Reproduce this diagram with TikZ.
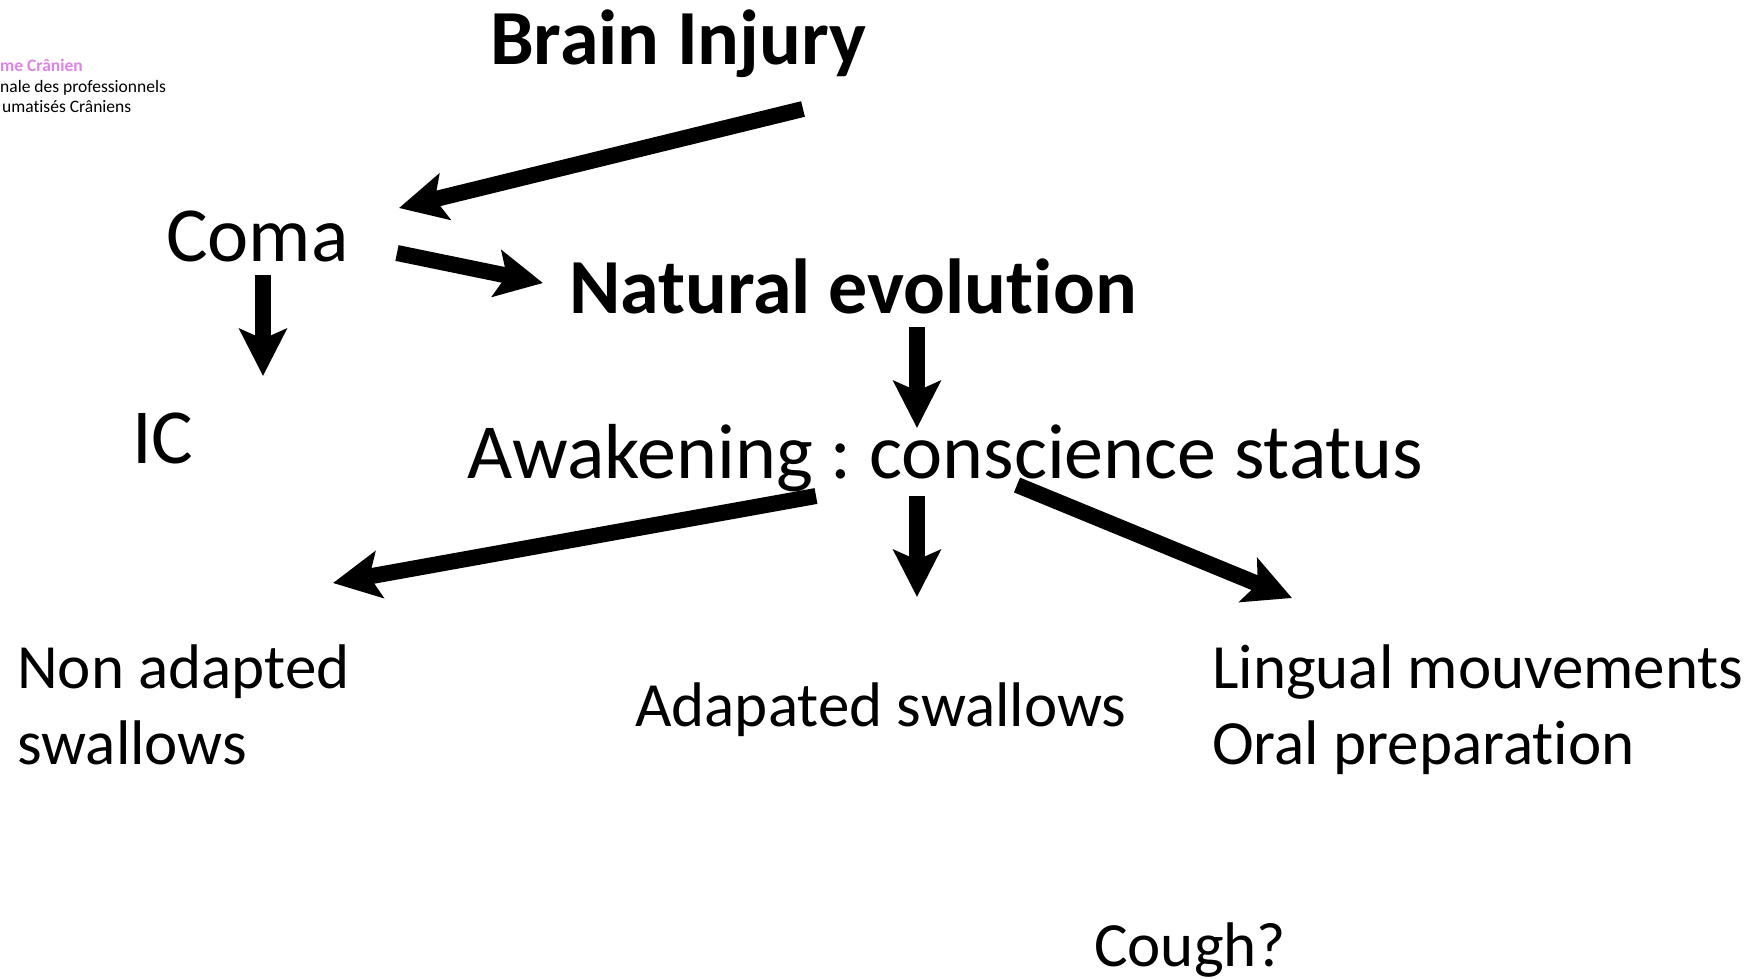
\documentclass[tikz,border=0pt]{standalone}
\usepackage{fontspec}
\setmainfont{Carlito}[Ligatures=CommonOff]
\usetikzlibrary{arrows.meta}
\frenchspacing
\definecolor{logopink}{RGB}{222,130,232}
\tikzset{
  big/.style={inner sep=0pt, anchor=base west, font=\fontsize{78}{94}\selectfont},
  bigbold/.style={big, font=\fontsize{78}{94}\selectfont\bfseries},
  mid/.style={inner sep=0pt, anchor=base west, font=\fontsize{63}{76}\selectfont},
  logo/.style={inner sep=0pt, anchor=base west, font=\fontsize{17.5}{21}\selectfont},
  flow/.style={line width=16pt, line cap=butt,
    -{Stealth[length=47pt, width=47pt, inset=10pt]}}
}
\begin{document}
\begin{tikzpicture}[x=1pt, y=-1pt]
\useasboundingbox (0,0) rectangle (1757,978);
\clip (0,0) rectangle (1757,978);

% logo caption, cut off at the left edge
\node[logo, text=logopink, font=\fontsize{17.5}{21}\selectfont\bfseries] (logoA) at (0,71) {me Crânien};
\node[logo] (logoB) at (0,92) {nale des professionnels};
\node[logo] (logoC) at (2,112) {umatisés Crâniens};

% titles and states
\node[bigbold] (injury) at (490,64) {Brain Injury};
\node[big] (coma) at (166,261) {Coma};
\node[big] (ic) at (132,463) {IC};
\node[bigbold] (natural) at (569,313) {Natural evolution};
\node[big] (awake) at (467,478) {Awakening : conscience status};

% outcomes
\node[mid] (nonad1) at (17,688) {Non adapted};
\node[mid] (nonad2) at (17,764) {swallows};
\node[mid] (adapt) at (635,726) {Adapated swallows};
\node[mid] (lingual) at (1212,688) {Lingual mouvements};
\node[mid] (oral) at (1212,764) {Oral preparation};
\node[mid] (cough) at (1094,966) {Cough?};

% arrow end points
\coordinate (injS) at (803,109);
\coordinate (injE) at (399,208);
\coordinate (comaR) at (397,253);
\coordinate (natW) at (543,283);
\coordinate (comaD) at (263,275);
\coordinate (icN) at (263,376);
\coordinate (natS) at (917,327);
\coordinate (awN) at (917,428);
\coordinate (awL) at (816,496);
\coordinate (nonN) at (333,583);
\coordinate (awM) at (917,496);
\coordinate (adN) at (917,597);
\coordinate (awR) at (1017,485);
\coordinate (linN) at (1292,598);

\draw[flow] (injS) -- (injE);
\draw[flow] (comaR) -- (natW);
\draw[flow] (comaD) -- (icN);
\draw[flow] (natS) -- (awN);
\draw[flow] (awL) -- (nonN);
\draw[flow] (awM) -- (adN);
\draw[flow] (awR) -- (linN);
\end{tikzpicture}
\end{document}
